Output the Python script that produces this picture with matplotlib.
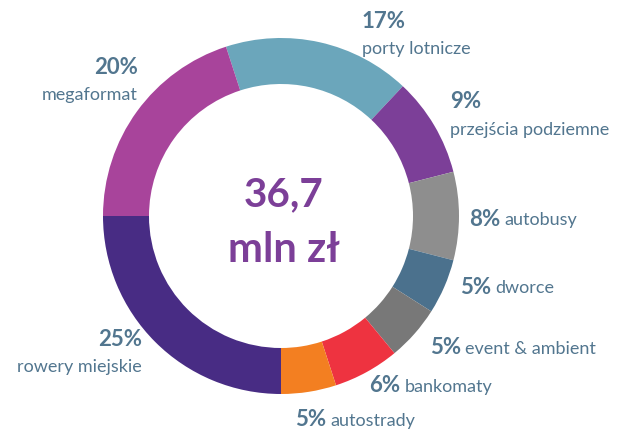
import matplotlib.pyplot as plt

# data
categories = ['porty lotnicze', 'przejścia podziemne', 'autobusy', 'dworce',
              'event & ambient', 'bankomaty', 'autostrady', 'rowery miejskie',
              'megaformat']
shares = [17, 9, 8, 5, 5, 6, 5, 25, 20]
total_label = ['36,7', 'mln zł']

colors = ['#6BA6BB', '#7C3F98', '#8E8E8E', '#4B718D', '#787878',
          '#EE3340', '#F37F21', '#482C84', '#A8449B']
text_col = '#52768F'
center_col = '#7C3F98'

plt.rcParams['font.family'] = ['Lato', 'DejaVu Sans']

W, H = 618, 432
fig = plt.figure(figsize=(W / 100, H / 100), dpi=100)
ax = fig.add_axes([0, 0, 1, 1])

cx, cy, R = 281, H - 216, 178
ax.pie(shares, colors=colors, startangle=108, counterclock=False,
       center=(cx, cy), radius=R, frame=True,
       wedgeprops=dict(width=46, linewidth=0))
ax.set_xlim(0, W)
ax.set_ylim(0, H)
ax.set_aspect('equal')
ax.axis('off')

ax.text(cx + 3, H - 195, total_label[0], ha='center', va='center',
        fontsize=29, fontweight='bold', color=center_col)
ax.text(cx + 3, H - 250, total_label[1], ha='center', va='center',
        fontsize=30, fontweight='bold', color=center_col)

pct_size, lab_size = 16, 13

# two-line labels: (index, x, y_pct, y_label, ha)
stacked = [(0, 362, 22, 49, 'left'),
           (1, 450, 101, 130, 'left'),
           (7, 142, 340, 367, 'right'),
           (8, 138, 67, 95, 'right')]
for i, x, yp, yl, ha in stacked:
    ax.text(x, H - yp, f'{shares[i]}%', ha=ha, va='center',
            fontsize=pct_size, fontweight='bold', color=text_col)
    ax.text(x, H - yl, categories[i], ha=ha, va='center',
            fontsize=lab_size, color=text_col)

# inline labels: (index, x, y)
inline = [(2, 469, 219), (3, 460, 287), (4, 430, 348),
          (5, 369, 386), (6, 295, 420)]
for i, x, y in inline:
    t = ax.text(x, H - y, f'{shares[i]}%', ha='left', va='center',
                fontsize=pct_size, fontweight='bold', color=text_col)
    ax.annotate(categories[i], xy=(1, 0.5), xycoords=t, xytext=(3, -0.5),
                textcoords='offset points', ha='left', va='center',
                fontsize=lab_size, color=text_col)

fig.savefig('out.png', dpi=100)
